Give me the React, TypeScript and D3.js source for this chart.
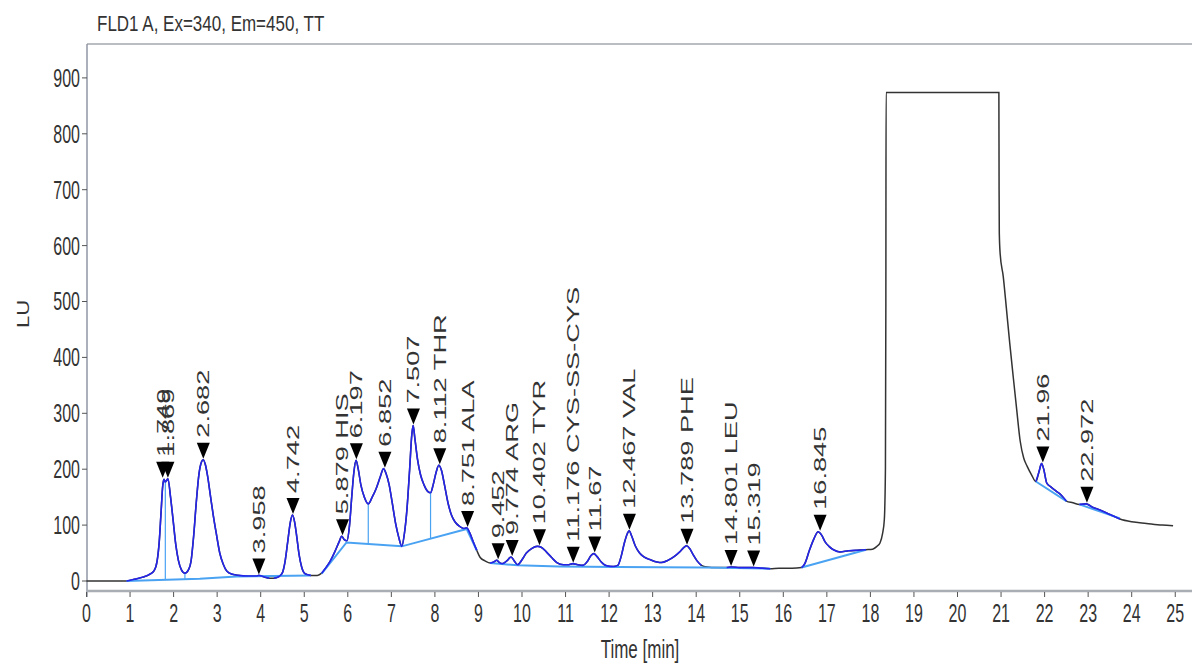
import React from 'react';
import * as d3 from 'd3';

const W = 1192;
const H = 664;

const titleText = 'FLD1 A, Ex=340, Em=450, TT';
const xLabel = 'Time [min]';
const yLabel = 'LU';

const xTickValues = [0, 1, 2, 3, 4, 5, 6, 7, 8, 9, 10, 11, 12, 13, 14, 15, 16, 17, 18, 19, 20, 21, 22, 23, 24, 25];
const yTickValues = [0, 100, 200, 300, 400, 500, 600, 700, 800, 900];

// detector trace (time in min, signal in LU)
const traceTime = [
  0, 0.5, 0.92, 1.1, 1.3, 1.45, 1.55, 1.62, 1.67, 1.71, 1.75, 1.78, 1.81, 1.87, 1.93, 1.99, 2.05, 2.11, 2.18, 2.26,
  2.34, 2.4, 2.46, 2.52, 2.58, 2.64, 2.68, 2.73, 2.78, 2.85, 2.91, 2.98, 3.06, 3.14, 3.22, 3.35, 3.5, 3.7, 3.9, 3.96,
  4.05, 4.2, 4.3, 4.42, 4.5, 4.56, 4.62, 4.68, 4.73, 4.78, 4.83, 4.88, 4.94, 5.02, 5.15, 5.3, 5.4, 5.5, 5.6, 5.7,
  5.8, 5.86, 5.92, 5.98, 6.04, 6.09, 6.14, 6.19, 6.24, 6.3, 6.38, 6.47, 6.56, 6.65, 6.74, 6.82, 6.88, 6.95, 7.02, 7.1,
  7.17, 7.24, 7.3, 7.36, 7.42, 7.47, 7.5, 7.54, 7.6, 7.67, 7.75, 7.84, 7.9, 7.96, 8.03, 8.09, 8.15, 8.22, 8.3, 8.38,
  8.46, 8.56, 8.66, 8.73, 8.8, 8.88, 8.96, 9.04, 9.15, 9.27, 9.35, 9.42, 9.48, 9.55, 9.65, 9.75, 9.82, 9.9, 10.0, 10.1,
  10.22, 10.35, 10.45, 10.56, 10.68, 10.8, 10.95, 11.05, 11.17, 11.28, 11.4, 11.5, 11.58, 11.65, 11.72, 11.82, 11.95, 12.1, 12.2, 12.28,
  12.35, 12.42, 12.46, 12.52, 12.6, 12.7, 12.8, 12.95, 13.1, 13.2, 13.35, 13.5, 13.62, 13.72, 13.78, 13.85, 13.93, 14.02, 14.12, 14.25,
  14.45, 14.7, 14.8, 15.0, 15.3, 15.5, 15.7, 15.9, 16.2, 16.42, 16.5, 16.6, 16.7, 16.8, 16.88, 16.96, 17.05, 17.15, 17.3, 17.5,
  17.7, 17.9, 18.05, 18.15, 18.22, 18.28, 18.32, 18.345, 18.355, 18.36, 20.95, 20.955, 20.96, 20.98, 21.05, 21.12, 21.2, 21.28, 21.36, 21.44,
  21.52, 21.6, 21.7, 21.8, 21.87, 21.93, 21.98, 22.05, 22.15, 22.28, 22.39, 22.5, 22.65, 22.8, 22.95, 23.1, 23.27, 23.5, 23.73, 24.0,
  24.34, 24.7, 24.95,
];
const traceLU = [
  0, 0, 0, 3, 7, 12, 18, 35, 70, 120, 170, 182, 177, 183, 150, 108, 65, 37, 20, 14,
  20, 35, 80, 140, 190, 213, 217, 208, 188, 150, 118, 85, 50, 30, 18, 12, 10, 9, 9, 10,
  8, 5, 5, 8, 15, 35, 70, 105, 118, 105, 78, 48, 25, 13, 10, 10, 14, 24, 36, 52,
  70, 80, 74, 72, 100, 150, 195, 216, 200, 172, 150, 138, 150, 165, 185, 201, 192, 172, 140, 102,
  78, 62, 85, 130, 200, 262, 278, 255, 218, 190, 172, 160, 158, 172, 195, 207, 198, 172, 140, 118,
  106, 98, 94, 95, 86, 70, 55, 42, 36, 32, 34, 37, 33, 31, 36, 43, 36, 29, 38, 50,
  58, 62, 60, 52, 42, 33, 29, 29, 31, 29, 28, 35, 45, 49, 44, 34, 27, 26, 28, 45,
  68, 85, 90, 80, 63, 50, 43, 38, 34, 33, 37, 44, 52, 60, 63, 58, 47, 36, 28, 25,
  24, 24, 25, 24, 24, 23, 22, 23, 23, 24, 32, 55, 75, 88, 82, 70, 62, 56, 52, 54,
  55, 56, 57, 62, 68, 85, 110, 200, 500, 874, 874, 700, 622, 585, 545, 490, 425, 365, 306, 250,
  220, 205, 190, 178, 195, 210, 200, 175, 168, 160, 153, 143, 140, 137, 138, 132, 127, 119, 111, 106,
  103, 100, 99,
];

// integrated (peak) portions of the trace, drawn in blue
const integratedRanges = [
  [0.92, 4.25], [4.3, 5.15], [5.4, 8.96], [9.27, 14.12], [14.7, 15.7], [16.42, 17.9], [21.8, 22.5], [22.8, 23.73],
];

// computed baselines, light blue
const baselineTimes = [
  [0.92, 2.6, 3.45, 5.15],
  [5.4, 5.97, 7.24, 8.73, 8.96],
  [9.27, 9.9, 10.85, 12.2, 14.2, 15.7],
  [16.42, 17.9],
  [21.8, 22.5],
  [22.8, 23.73],
];
const baselineLU = [
  [0, 4, 8, 10],
  [13, 69, 62, 93, 55],
  [32, 28, 26, 25, 24, 22],
  [24, 56],
  [178, 143],
  [137, 112],
];

// peak separation drop lines: time, top, bottom
const dropTimes = [1.81, 2.26, 6.47, 7.9];
const dropTops = [177, 14, 138, 158];
const dropBottoms = [2, 3, 66, 76];

// peak marks
const peakTimes = [1.749, 1.869, 2.682, 3.958, 4.742, 5.879, 6.197, 6.852, 7.507, 8.112, 8.751, 9.452, 9.774, 10.402, 11.176, 11.67, 12.467, 13.789, 14.801, 15.319, 16.845, 21.96, 22.972];
const peakHeights = [183, 183, 217, 10, 118, 80, 216, 201, 278, 207, 95, 37, 43, 62, 31, 49, 90, 63, 25, 24, 88, 210, 138];
const peakNames = ['', '', '', '', '', 'HIS', '', '', '', 'THR', 'ALA', '', 'ARG', 'TYR', 'CYS-SS-CYS', '', 'VAL', 'PHE', 'LEU', '', '', '', ''];

const FONT = "'Liberation Sans', Arial, sans-serif";
const TEXT = '#333';
const BLUE = '#2424ea';
const LIGHT = '#4aa2f2';
const TRACE = '#333';

export default function App() {
  const x = d3.scaleLinear().domain([0, 25]).range([86.5, 1175.25]);
  const y = d3.scaleLinear().domain([0, 900]).range([581, 77.9]);

  const pts: [number, number][] = traceTime.map((t, i) => [t, traceLU[i]]);
  const line = d3
    .line<[number, number]>()
    .x((d) => x(d[0]))
    .y((d) => y(d[1]))
    .curve(d3.curveMonotoneX);
  const straight = d3
    .line<[number, number]>()
    .x((d) => x(d[0]))
    .y((d) => y(d[1]));

  const axisLeft = 87;
  const axisBottom = 591;

  return (
    <svg
      width={W}
      height={H}
      viewBox={`0 0 ${W} ${H}`}
      style={{ position: 'absolute', left: 0, top: 0, background: '#fff' }}
    >
      <rect x={0} y={0} width={W} height={H} fill="#fff" />
      {/* title */}
      <text
        transform={`translate(97,31) scale(1,1.3)`}
        fontFamily={FONT}
        fontSize={17}
        fill={TEXT}
      >
        {titleText}
      </text>

      {/* frame */}
      <line x1={axisLeft} x2={W} y1={44} y2={44} stroke="#a3a7ad" strokeWidth={1.5} />
      <line x1={axisLeft} x2={axisLeft} y1={44} y2={597} stroke="#8f96a3" strokeWidth={1.5} />
      <line x1={axisLeft} x2={W} y1={axisBottom} y2={axisBottom} stroke="#a9adb4" strokeWidth={2.5} />

      {/* y ticks */}
      {yTickValues.map((v) => (
        <g key={'y' + v}>
          <line x1={axisLeft - 5} x2={axisLeft} y1={y(v)} y2={y(v)} stroke="#555" strokeWidth={1} />
          <text
            transform={`translate(${axisLeft - 7},${y(v)}) scale(1,1.6)`}
            textAnchor="end"
            dy="0.35em"
            fontFamily={FONT}
            fontSize={16}
            fill={TEXT}
          >
            {v}
          </text>
        </g>
      ))}

      {/* x ticks */}
      {xTickValues.map((t) => (
        <g key={'x' + t}>
          <line x1={x(t)} x2={x(t)} y1={axisBottom + 1} y2={axisBottom + 6} stroke="#555" strokeWidth={1} />
          <text
            transform={`translate(${x(t)},613) scale(1,1.6)`}
            textAnchor="middle"
            dy="0.35em"
            fontFamily={FONT}
            fontSize={16}
            fill={TEXT}
          >
            {t}
          </text>
        </g>
      ))}

      {/* axis titles */}
      <text
        transform={`translate(640,658) scale(1,1.5)`}
        textAnchor="middle"
        fontFamily={FONT}
        fontSize={17}
        fill={TEXT}
      >
        {xLabel}
      </text>
      <text
        transform={`translate(23,314) rotate(-90) scale(1.3,1)`}
        textAnchor="middle"
        dy="0.35em"
        fontFamily={FONT}
        fontSize={17}
        fill={TEXT}
      >
        {yLabel}
      </text>

      {/* full trace */}
      <path d={line(pts) || ''} fill="none" stroke={TRACE} strokeWidth={1.5} />

      {/* baselines */}
      {baselineTimes.map((ts, i) => (
        <path
          key={'b' + i}
          d={straight(ts.map((t, j) => [t, baselineLU[i][j]] as [number, number])) || ''}
          fill="none"
          stroke={LIGHT}
          strokeWidth={2}
        />
      ))}
      {dropTimes.map((t, i) => (
        <line
          key={'d' + i}
          x1={x(t)}
          x2={x(t)}
          y1={y(dropTops[i])}
          y2={y(dropBottoms[i])}
          stroke={LIGHT}
          strokeWidth={1.2}
        />
      ))}

      {/* integrated peaks */}
      {integratedRanges.map((r, i) => {
        const sub = pts.filter((p) => p[0] >= r[0] - 1e-9 && p[0] <= r[1] + 1e-9);
        return <path key={'p' + i} d={line(sub) || ''} fill="none" stroke={BLUE} strokeWidth={1.6} />;
      })}

      {/* peak markers and labels */}
      {peakTimes.map((t, i) => {
        const px = x(t);
        const tip = y(peakHeights[i]) - 1;
        const top = tip - 16;
        const label = String(t) + (peakNames[i] ? ' ' + peakNames[i] : '');
        return (
          <g key={'m' + i}>
            <path d={`M${px - 6.5},${top} L${px + 6.5},${top} L${px},${tip} Z`} fill="#000" />
            <text
              transform={`translate(${px},${top - 5}) rotate(-90) scale(1.6,1)`}
              dy="0.35em"
              fontFamily={FONT}
              fontSize={17}
              fill={TEXT}
            >
              {label}
            </text>
          </g>
        );
      })}
    </svg>
  );
}
